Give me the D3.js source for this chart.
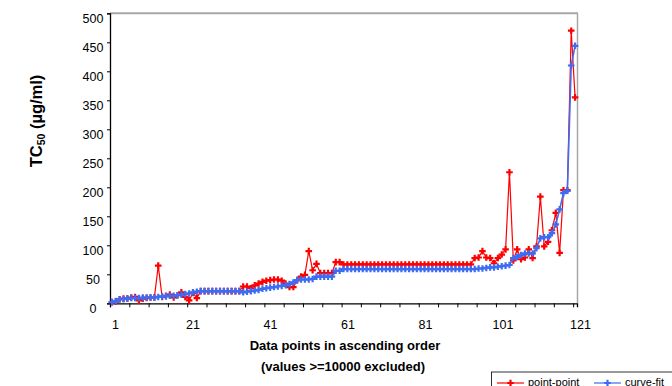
<!DOCTYPE html>
<html>
<head>
<meta charset="utf-8">
<script src="https://cdn.jsdelivr.net/npm/d3@7"></script>
<style>
  body { margin: 0; background: #fff; }
  svg { font-family: Arial, "Liberation Sans", sans-serif; }
</style>
</head>
<body>
<svg id="chart" width="672" height="386"></svg>
<script>
// category index 1..121
const categories = d3.range(1, 122)
const xTickLabels = [1, 21, 41, 61, 81, 101, 121]
const yTickValues = [0, 50, 100, 150, 200, 250, 300, 350, 400, 450, 500]

const pointPoint = [
  2, 3, 7, 8, 8, 10, 11, 5, 8, 9,
  10, 10, 65, 11, 13, 15, 10, 14, 19, 11,
  5, 18, 9, 21, 21, 21, 21, 21, 21, 21,
  21, 21, 21, 21, 29, 29, 26, 31, 34, 37,
  39, 40, 41, 41, 39, 34, 28, 28, 40, 46,
  49, 90, 57, 68, 52, 52, 52, 52, 71, 71,
  67, 67, 67, 67, 67, 67, 67, 67, 67, 67,
  67, 67, 67, 67, 67, 67, 67, 67, 67, 67,
  67, 67, 67, 67, 67, 67, 67, 67, 67, 67,
  67, 67, 67, 67, 78, 79, 90, 79, 78, 69,
  78, 84, 93, 226, 74, 93, 76, 79, 93, 78,
  98, 184, 98, 106, 126, 156, 87, 195, 195, 470,
  355
]

const curveFit = [
  2, 4, 7, 7, 8, 9, 9, 9, 10, 10,
  10, 10, 11, 12, 12, 13, 13, 14, 15, 16,
  17, 19, 20, 21, 21, 21, 21, 21, 21, 21,
  21, 21, 21, 21, 19, 20, 21, 22, 23, 25,
  26, 27, 28, 29, 30, 31, 33, 36, 40, 41,
  41, 41, 42, 46, 46, 46, 46, 46, 56, 56,
  59, 59, 59, 59, 59, 59, 59, 59, 59, 59,
  59, 59, 59, 59, 59, 59, 59, 59, 59, 59,
  59, 59, 59, 59, 59, 59, 59, 59, 59, 59,
  59, 59, 59, 59, 59, 60, 60, 61, 62, 62,
  63, 64, 65, 66, 78, 80, 83, 86, 86, 86,
  95, 112, 114, 114, 121, 136, 162, 190, 194, 410,
  444
]

const svg = d3.select("#chart")

const plotLeft = 110, plotRight = 577, plotTop = 13.3, plotBottom = 303.3

const x = d3.scaleBand().domain(categories).range([plotLeft, plotRight]).padding(0)
const xc = d => x(d) + x.bandwidth() / 2
// boundary scale for the tick marks (every 5 categories)
const xb = d3.scaleLinear().domain([0, categories.length]).range([plotLeft, plotRight])
// tick labels sit a little right of the category centres in the original
const xl = d3.scaleLinear().domain([1, 121]).range([115, 580])

const y = d3.scaleLinear().domain([0, 500]).range([plotBottom, plotTop])
// labels sit a few pixels below their ticks
const yl = d3.scaleLinear().domain([0, 500]).range([plotBottom + 5, plotTop + 5])

// frame: grey top and right
svg.append("line").attr("x1", plotLeft).attr("x2", plotRight + 1).attr("y1", plotTop).attr("y2", plotTop)
  .attr("stroke", "#a6a6a6").attr("stroke-width", 2)
svg.append("line").attr("x1", plotRight + 0.5).attr("x2", plotRight + 0.5).attr("y1", plotTop).attr("y2", plotBottom)
  .attr("stroke", "#a6a6a6").attr("stroke-width", 1.5)

// y axis
const yAxis = svg.append("g").attr("transform", "translate(" + plotLeft + ",0)")
  .call(d3.axisLeft(y).tickValues(yTickValues).tickSize(3).tickFormat(""))
yAxis.select(".domain").attr("stroke", "#000").attr("stroke-width", 1.3)

svg.append("g").attr("transform", "translate(" + plotLeft + ",0)")
  .call(d3.axisLeft(yl).tickValues(yTickValues).tickSize(0))
  .call(g => g.select(".domain").remove())
  .selectAll("text")
  .attr("x", -17).attr("text-anchor", "middle")
  .attr("font-size", "12.5px").attr("fill", "#000")

// x axis
const xAxis = svg.append("g").attr("transform", "translate(0," + plotBottom + ")")
  .call(d3.axisBottom(xb).tickValues(d3.range(0, 121, 5)).tickSize(4).tickFormat(""))
xAxis.select(".domain").attr("stroke", "#000").attr("stroke-width", 1.3)

svg.append("g").attr("transform", "translate(0," + plotBottom + ")")
  .call(d3.axisBottom(xl).tickValues(xTickLabels).tickSize(0).tickPadding(17))
  .call(g => g.select(".domain").remove())
  .selectAll("text")
  .attr("font-size", "12.5px").attr("fill", "#000")

// axis titles
svg.append("text").attr("x", 345).attr("y", 350).attr("text-anchor", "middle")
  .attr("font-size", "13px").attr("font-weight", "bold")
  .text("Data points in ascending order")
svg.append("text").attr("x", 343).attr("y", 371).attr("text-anchor", "middle")
  .attr("font-size", "13px").attr("font-weight", "bold")
  .text("(values >=10000 excluded)")

const yTitle = svg.append("text")
  .attr("transform", "translate(42,121) rotate(-90)")
  .attr("text-anchor", "middle")
  .attr("font-size", "16.5px").attr("font-weight", "bold")
yTitle.append("tspan").text("TC")
yTitle.append("tspan").attr("font-size", "10.5px").attr("dy", 3).text("50")
yTitle.append("tspan").attr("dy", -3).text(" (\u00b5g/ml)")

// series
const series = [
  { name: "point-point", values: pointPoint, color: "#ff0000", width: 1.2 },
  { name: "curve-fit", values: curveFit, color: "#3d6cf2", width: 1.6 }
]

const line = d3.line()
  .x((d, i) => xc(categories[i]))
  .y(d => y(d))

const marker = d3.symbol().type(d3.symbolCross).size(24)

series.forEach(s => {
  svg.append("path").datum(s.values)
    .attr("d", line)
    .attr("fill", "none")
    .attr("stroke", s.color)
    .attr("stroke-width", s.width)
  svg.append("g").selectAll("path")
    .data(s.values)
    .enter()
    .append("path")
    .attr("d", marker)
    .attr("transform", (d, i) => "translate(" + xc(categories[i]) + "," + y(d) + ")")
    .attr("fill", s.color)
})

// legend (runs off the bottom right corner, as in the original)
const legend = svg.append("g")
legend.append("rect").attr("x", 491.5).attr("y", 372).attr("width", 200).attr("height", 30)
  .attr("fill", "#fff").attr("stroke", "#000").attr("stroke-width", 0.8)
const legendX = [497, 594]
series.forEach((s, i) => {
  const lx = legendX[i]
  legend.append("line").attr("x1", lx).attr("x2", lx + 27).attr("y1", 383).attr("y2", 383)
    .attr("stroke", s.color).attr("stroke-width", 1.2)
  legend.append("path").attr("d", marker)
    .attr("transform", "translate(" + (lx + 13.5) + ",383)").attr("fill", s.color)
  legend.append("text").attr("x", lx + 31).attr("y", 386)
    .attr("font-size", "11px").text(s.name)
})
</script>
</body>
</html>
